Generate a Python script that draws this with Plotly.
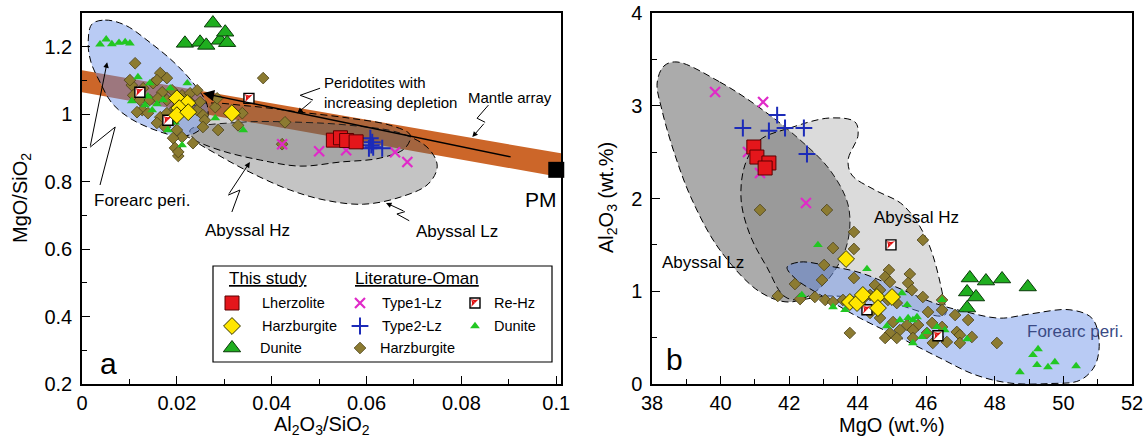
import plotly.graph_objects as go

FONT = "Liberation Sans, Arial, sans-serif"
W, H = 1145, 441

# ---------------- panel a : MgO/SiO2 vs Al2O3/SiO2 ----------------
a_lherz_x = [0.0530, 0.0545, 0.0558, 0.0578]
a_lherz_y = [0.923, 0.930, 0.922, 0.918]
a_harz_x = [0.0200, 0.0222, 0.0205, 0.0200, 0.0224, 0.0316]
a_harz_y = [1.047, 1.033, 1.018, 0.997, 1.006, 1.003]
a_dun_x = [0.0217, 0.0249, 0.0262, 0.0276, 0.0291, 0.0302, 0.0306]
a_dun_y = [1.210, 1.213, 1.204, 1.270, 1.219, 1.243, 1.212]
a_type1_x = [0.0422, 0.0500, 0.0557, 0.0660, 0.0686]
a_type1_y = [0.911, 0.890, 0.893, 0.887, 0.858]
a_type2_x = [0.0608, 0.0612, 0.0610, 0.0605, 0.0614, 0.0633]
a_type2_y = [0.929, 0.917, 0.908, 0.899, 0.902, 0.899]
a_rehz_x = [0.0122, 0.0181, 0.0352]
a_rehz_y = [1.065, 0.982, 1.047]
a_litdun_x = [0.0038, 0.0051, 0.0063, 0.0078, 0.0091, 0.0101,
              0.0118, 0.0143, 0.0105, 0.0133, 0.0148, 0.0158, 0.0171, 0.0186,
              0.0222, 0.0281, 0.0340, 0.0181, 0.0211, 0.0139, 0.0196]
a_litdun_y = [1.207, 1.222, 1.208, 1.212, 1.214, 1.210,
              1.110, 1.092, 1.039, 1.027, 1.012, 1.030, 1.042, 1.077,
              1.092, 0.988, 0.953, 0.953, 0.908, 1.053, 0.976]
a_litharz_x = [0.0112, 0.0382, 0.0165, 0.0179, 0.0105, 0.0129, 0.0150, 0.0169,
               0.0190, 0.0211, 0.0228, 0.0243, 0.0108, 0.0122, 0.0143, 0.0160,
               0.0179, 0.0127, 0.0116, 0.0139, 0.0165, 0.0179, 0.0192, 0.0158,
               0.0175, 0.0200, 0.0211, 0.0192, 0.0196, 0.0203, 0.0234, 0.0243,
               0.0255, 0.0259, 0.0255, 0.0287, 0.0281, 0.0285, 0.0329, 0.0338,
               0.0228, 0.0249, 0.0101, 0.0158, 0.0428, 0.0422, 0.0203, 0.0210,
               0.0220, 0.0195]
a_litharz_y = [1.151, 1.107, 1.122, 1.107, 1.086, 1.077, 1.092, 1.065,
               1.071, 1.056, 1.062, 1.071, 1.056, 1.042, 1.042, 1.047,
               1.042, 1.012, 1.006, 1.003, 0.991, 1.003, 0.982, 0.974,
               0.962, 0.953, 0.932, 0.929, 0.900, 0.876, 0.914, 1.012,
               0.997, 0.982, 0.962, 0.953, 1.021, 1.047, 0.967, 1.003,
               1.036, 1.036, 1.101, 1.101, 0.976, 0.911, 0.888, 1.030,
               1.010, 1.015]
pm_x = [0.100]
pm_y = [0.835]

# field outlines, panel a
a_band_x = [0.0, 0.101, 0.101, 0.0]
a_band_y = [1.130, 0.884, 0.813, 1.065]
a_abylz_x = [0.0228, 0.0333, 0.0460, 0.0565, 0.0671, 0.0730, 0.0749, 0.0730,
             0.0671, 0.0593, 0.0513, 0.0439, 0.0354, 0.0281, 0.0238]
a_abylz_y = [0.953, 0.976, 0.976, 0.967, 0.944, 0.899, 0.846, 0.793,
             0.754, 0.733, 0.745, 0.775, 0.828, 0.884, 0.923]
a_abyhz_x = [0.0186, 0.0249, 0.0354, 0.0460, 0.0565, 0.0650, 0.0692, 0.0681,
             0.0629, 0.0544, 0.0460, 0.0376, 0.0291, 0.0228, 0.0196]
a_abyhz_y = [0.988, 1.030, 1.024, 1.006, 0.988, 0.967, 0.938, 0.899,
             0.870, 0.858, 0.846, 0.864, 0.893, 0.929, 0.959]
a_fore_x = [0.0021, 0.0049, 0.0091, 0.0143, 0.0196, 0.0238, 0.0264, 0.0262,
            0.0238, 0.0203, 0.0154, 0.0101, 0.0063, 0.0038, 0.0019, 0.0013]
a_fore_y = [1.267, 1.279, 1.264, 1.213, 1.151, 1.086, 1.027, 0.976,
            0.944, 0.935, 0.953, 0.988, 1.033, 1.095, 1.154, 1.213]

# ---------------- panel b : Al2O3 vs MgO ----------------
b_lherz_x = [40.97, 41.06, 41.41, 41.30]
b_lherz_y = [2.555, 2.447, 2.383, 2.329]
b_harz_x = [43.66, 43.77, 43.98, 44.15, 44.56, 44.59, 45.00]
b_harz_y = [1.348, 0.884, 0.873, 0.960, 0.938, 0.819, 0.938]
b_dun_x = [47.27, 47.74, 48.21, 48.96, 47.19, 47.45, 47.19]
b_dun_y = [1.143, 1.110, 1.132, 1.046, 0.992, 0.938, 0.819]
b_type1_x = [39.84, 41.24, 42.49, 40.80, 41.15]
b_type1_y = [3.148, 3.040, 1.951, 2.501, 2.275]
b_type2_x = [40.65, 41.65, 41.41, 41.88, 42.43, 42.52]
b_type2_y = [2.76, 2.90, 2.73, 2.76, 2.76, 2.48]
b_rehz_x = [44.97, 44.27, 46.34]
b_rehz_y = [1.50, 0.80, 0.52]
b_litdun_x = [42.84, 44.27, 42.37, 43.63, 43.28, 45.29, 45.44, 44.85, 45.23,
              45.47, 45.61, 45.73, 46.02, 45.61, 46.46, 46.54, 46.31, 45.87,
              47.19, 48.73, 49.11, 49.26, 49.23, 49.55, 49.75, 50.37]
b_litdun_y = [1.499, 1.240, 0.960, 0.798, 0.830, 0.981, 0.852, 0.625, 0.690,
              0.712, 0.690, 0.722, 0.561, 0.442, 0.906, 0.582, 0.615, 0.507,
              0.485, 0.129, 0.313, 0.377, 0.205, 0.183, 0.237, 0.194]
b_litharz_x = [41.15, 43.10, 43.89, 43.28, 43.89, 45.90, 43.02, 42.96, 43.89,
               42.17, 41.67, 42.32, 42.75, 43.05, 43.28, 43.57, 44.91, 45.52,
               44.80, 44.94, 45.47, 44.50, 44.65, 45.58, 44.36, 44.21, 45.90,
               46.46, 44.88, 45.14, 46.05, 46.46, 46.84, 47.22, 44.36, 44.65,
               45.03, 45.44, 45.76, 46.17, 46.46, 46.89, 46.98, 47.33, 44.94,
               45.23, 45.14, 44.80, 45.61, 46.02, 46.34, 46.60, 46.98, 46.19,
               45.61, 48.06, 43.77]
b_litharz_y = [1.876, 1.876, 1.639, 1.466, 1.456, 1.553, 1.283, 1.121, 1.143,
               1.078, 0.949, 0.916, 0.938, 0.906, 0.884, 0.906, 1.229, 1.186,
               1.154, 1.100, 1.089, 1.067, 1.013, 1.013, 0.960, 0.938, 0.938,
               0.906, 0.906, 0.873, 0.776, 0.798, 0.744, 0.690, 0.766, 0.712,
               0.668, 0.636, 0.636, 0.658, 0.615, 0.561, 0.528, 0.507, 0.550,
               0.582, 0.496, 0.496, 0.582, 0.550, 0.507, 0.453, 0.442, 0.442,
               0.496, 0.442, 0.550]

# field outlines, panel b
b_abylz_x = [38.73, 39.98, 41.15, 42.32, 43.19, 43.72, 43.72, 43.34, 42.75,
             42.02, 41.15, 39.98, 39.17, 38.67, 38.29, 38.15, 38.35]
b_abylz_y = [3.472, 3.256, 2.976, 2.631, 2.307, 1.930, 1.553, 1.229, 0.992,
             0.884, 0.992, 1.445, 1.984, 2.469, 2.954, 3.245, 3.429]
b_abyhz_x = [40.71, 41.15, 42.02, 43.19, 43.92, 44.01, 43.72, 43.83, 44.50,
             45.32, 46.02, 46.49, 46.54, 44.65, 43.19, 41.94, 41.35, 40.86, 40.60]
b_abyhz_y = [2.361, 2.631, 2.760, 2.868, 2.825, 2.685, 2.415, 2.253, 2.092,
             1.930, 1.553, 0.938, 0.744, 0.906, 0.949, 0.927, 1.261, 1.606, 1.984]
b_fore_x = [41.94, 42.32, 43.19, 44.07, 45.09, 46.25, 47.13, 48.15, 49.02,
            50.19, 50.83, 51.04, 50.92, 50.48, 49.61, 48.44, 47.42, 46.40,
            45.23, 44.07, 43.05, 42.17]
b_fore_y = [1.260, 1.315, 1.270, 1.200, 1.050, 0.870, 0.780, 0.710, 0.755,
            0.800, 0.710, 0.470, 0.200, 0.040, 0.005, 0.010, 0.100, 0.280,
            0.500, 0.710, 0.930, 1.140]

# colours
RED = "#E4161B"
YEL = "#FFE600"
GRN = "#1FAE1F"
LGRN = "#22C722"
OLV = "#8C7B31"
MAG = "#E02AC8"
BLU = "#1C2BB8"
BAND = "rgb(204,102,41)"
BLUEFILL = "rgba(100,140,230,0.45)"
DASH = "7px,4px"

fig = go.Figure()


def region(x, y, fill, xa, ya, outline=True):
    fig.add_trace(go.Scatter(
        x=x + [x[0]], y=y + [y[0]], mode="lines", fill="toself", fillcolor=fill,
        line=dict(color="black" if outline else "rgba(0,0,0,0)", width=1,
                  dash=DASH, shape="spline" if outline else "linear", smoothing=1.0),
        xaxis=xa, yaxis=ya, hoverinfo="skip", showlegend=False))


def pts(x, y, xa, ya, symbol, size, color, lc="black", lw=1.0, angle=0):
    fig.add_trace(go.Scatter(
        x=x, y=y, mode="markers", xaxis=xa, yaxis=ya,
        marker=dict(symbol=symbol, size=size, color=color, angle=angle,
                    line=dict(color=lc, width=lw)),
        hoverinfo="skip", showlegend=False, cliponaxis=False))


def rehz(x, y, xa, ya, size=10):
    # white square, upper-left half filled red (two quarter wedges), black frame
    pts(x, y, xa, ya, "square", size, "white", "white", 0)
    q = size * 0.7071
    pts(x, y, xa, ya, "arrow-wide", q, "#E01010", "#E01010", 0, angle=180)
    pts(x, y, xa, ya, "arrow-wide", q, "#E01010", "#E01010", 0, angle=90)
    pts(x, y, xa, ya, "square-open", size, "black", "black", 1.4)


def zigzag(x, y, xa, ya):
    fig.add_trace(go.Scatter(x=x, y=y, mode="lines", xaxis=xa, yaxis=ya,
                             line=dict(color="black", width=1), hoverinfo="skip",
                             showlegend=False))


# ---- panel a fields ----
region(a_band_x, a_band_y, BAND, "x", "y", outline=False)
region(a_abylz_x, a_abylz_y, "rgba(100,100,100,0.38)", "x", "y")
region(a_abyhz_x, a_abyhz_y, "rgba(100,100,100,0.30)", "x", "y")
region(a_fore_x, a_fore_y, BLUEFILL, "x", "y")

# zig-zag leader lines (panel a)
leaders_a = [
    ([0.0038, 0.0070, 0.0017], [0.790, 0.962, 0.902], (0.0053, 1.154)),
    ([0.0502, 0.0460, 0.0487], [1.077, 1.056, 1.042], (0.0454, 1.003)),
    ([0.0857, 0.0833, 0.0850], [1.027, 0.988, 0.976], (0.0823, 0.932)),
    ([0.0316, 0.0333, 0.0308], [0.710, 0.775, 0.760], (0.0354, 0.858)),
    ([0.0690, 0.0664, 0.0681], [0.684, 0.704, 0.711], (0.0641, 0.737)),
]
annotations = []
for lx, ly, tip in leaders_a:
    zigzag(lx, ly, "x", "y")
    annotations.append(dict(x=tip[0], y=tip[1], ax=lx[-1], ay=ly[-1], xref="x", yref="y",
                            axref="x", ayref="y", text="", showarrow=True, arrowhead=2,
                            arrowsize=1.1, arrowwidth=1, arrowcolor="black", standoff=0))
# depletion trend arrow inside the mantle array
annotations.append(dict(x=0.0255, y=1.062, ax=0.0907, ay=0.8726, xref="x", yref="y",
                        axref="x", ayref="y", text="", showarrow=True, arrowhead=2,
                        arrowsize=1.6, arrowwidth=1.4, arrowcolor="black", standoff=0))

# ---- panel a points ----
pts(a_litharz_x, a_litharz_y, "x", "y", "diamond", 9, OLV, "#4A4018", 0.8)
pts(a_litdun_x, a_litdun_y, "x", "y", "triangle-up", 8.5, LGRN, LGRN, 0)
rehz(a_rehz_x, a_rehz_y, "x", "y")
pts(a_type1_x, a_type1_y, "x", "y", "x-thin", 10, MAG, MAG, 2.2)
pts(a_type2_x, a_type2_y, "x", "y", "cross-thin", 12, BLU, BLU, 2)
pts(a_lherz_x, a_lherz_y, "x", "y", "square", 14, RED, "#5A0000", 1)
pts(a_harz_x, a_harz_y, "x", "y", "diamond", 13, YEL, "#333300", 1)
pts(a_dun_x, a_dun_y, "x", "y", "triangle-up", 15, GRN, "#0A3A0A", 1)
pts(pm_x, pm_y, "x", "y", "square", 16, "black", "black", 0)

# ---- panel b fields ----
region(b_abylz_x, b_abylz_y, "rgba(100,100,100,0.54)", "x2", "y2")
region(b_abyhz_x, b_abyhz_y, "rgba(100,100,100,0.23)", "x2", "y2")
region(b_fore_x, b_fore_y, BLUEFILL, "x2", "y2")

# ---- panel b points ----
pts(b_litharz_x, b_litharz_y, "x2", "y2", "diamond", 9, OLV, "#4A4018", 0.8)
pts(b_litdun_x, b_litdun_y, "x2", "y2", "triangle-up", 8.5, LGRN, LGRN, 0)
rehz(b_rehz_x, b_rehz_y, "x2", "y2")
pts(b_type1_x, b_type1_y, "x2", "y2", "x-thin", 10, MAG, MAG, 2.2)
pts(b_type2_x, b_type2_y, "x2", "y2", "cross-thin", 12, BLU, BLU, 2)
pts(b_lherz_x, b_lherz_y, "x2", "y2", "square", 14, RED, "#5A0000", 1)
pts(b_harz_x, b_harz_y, "x2", "y2", "diamond", 13, YEL, "#333300", 1)
pts(b_dun_x, b_dun_y, "x2", "y2", "triangle-up", 15, GRN, "#0A3A0A", 1)

# ---- key box (own hidden axes, units = px inside the box) ----
pts([19], [37], "x3", "y3", "square", 14, RED, "#5A0000", 1)
pts([19], [60], "x3", "y3", "diamond", 13, YEL, "#333300", 1)
pts([19], [82], "x3", "y3", "triangle-up", 15, GRN, "#0A3A0A", 1)
pts([147], [37], "x3", "y3", "x-thin", 10, MAG, MAG, 2.2)
pts([147], [60], "x3", "y3", "cross-thin", 12, BLU, BLU, 2)
pts([147], [82], "x3", "y3", "diamond", 9, OLV, "#4A4018", 0.8)
rehz([262], [37], "x3", "y3", size=10)
pts([262], [60], "x3", "y3", "triangle-up", 8.5, LGRN, LGRN, 0)

key_text = [
    (14, 12, "<u>This study</u>", 17), (140, 12, "<u>Literature-Oman</u>", 17),
    (47, 37, "Lherzolite", 14.5), (47, 60, "Harzburgite", 14.5), (45, 82, "Dunite", 14.5),
    (167, 37, "Type1-Lz", 14.5), (167, 60, "Type2-Lz", 14.5), (165, 82, "Harzburgite", 14.5),
    (279, 37, "Re-Hz", 14.5), (279, 60, "Dunite", 14.5),
]
for kx, ky, kt, ks in key_text:
    annotations.append(dict(x=kx, y=ky, xref="x3", yref="y3", text=kt, showarrow=False,
                            xanchor="left", yanchor="middle",
                            font=dict(family=FONT, size=ks, color="black")))


def label(x, y, text, xr, yr, size=17, color="black", xanchor="center", align="center",
          angle=0):
    annotations.append(dict(x=x, y=y, xref=xr, yref=yr, text=text, showarrow=False,
                            xanchor=xanchor, yanchor="middle", align=align, textangle=angle,
                            font=dict(family=FONT, size=size, color=color)))


# panel a labels
label(0.0127, 0.745, "Forearc peri.", "x", "y", 17)
label(0.0348, 0.656, "Abyssal Hz", "x", "y", 17)
label(0.0791, 0.653, "Abyssal Lz", "x", "y", 17)
label(0.0506, 1.064, "Peridotites with<br>increasing depletion", "x", "y", 15,
      xanchor="left", align="left")
label(0.0903, 1.050, "Mantle array", "x", "y", 15)
label(0.0968, 0.748, "PM", "x", "y", 21)
label(0.0055, 0.262, "a", "x", "y", 30)
# panel b labels
label(39.49, 1.305, "Abyssal Lz", "x2", "y2", 17)
label(45.70, 1.790, "Abyssal Hz", "x2", "y2", 17)
label(50.34, 0.561, "Forearc peri.", "x2", "y2", 17, color="#3A4A85")
label(38.67, 0.259, "b", "x2", "y2", 30)

# axis titles
label(321.5 / W, 1 - 425 / H, "Al<sub>2</sub>O<sub>3</sub>/SiO<sub>2</sub>", "paper", "paper", 20)
label(892 / W, 1 - 425 / H, "MgO (wt.%)", "paper", "paper", 20)
label(21 / W, 1 - 198 / H, "MgO/SiO<sub>2</sub>", "paper", "paper", 20, angle=-90)
label(607 / W, 1 - 198 / H, "Al<sub>2</sub>O<sub>3</sub> (wt.%)", "paper", "paper", 20, angle=-90)

axis_common = dict(showline=True, linecolor="black", linewidth=1.5, mirror=True,
                   ticks="inside", ticklen=8, tickwidth=1.3, tickcolor="black",
                   showgrid=False, zeroline=False, automargin=False,
                   tickfont=dict(family=FONT, size=20, color="black"))
minor_common = dict(ticks="inside", ticklen=5, tickwidth=1.2, tickcolor="black", showgrid=False)
ydom = [1 - 384 / H, 1 - 13 / H]

fig.update_layout(
    template="none",
    width=W, height=H, margin=dict(l=0, r=0, t=0, b=0, pad=0, autoexpand=False),
    paper_bgcolor="white", plot_bgcolor="rgba(0,0,0,0)", showlegend=False,
    font=dict(family=FONT, color="black"),
    xaxis=dict(domain=[82 / W, 561 / W], range=[0, 0.101], tick0=0, dtick=0.02,
               minor=dict(dtick=0.01, **minor_common), anchor="y", **axis_common),
    yaxis=dict(domain=ydom, range=[0.2, 1.3], tick0=0.2, dtick=0.2,
               minor=dict(dtick=0.1, **minor_common), anchor="x", ticklabelstandoff=4,
               **axis_common),
    xaxis2=dict(domain=[652 / W, 1132 / W], range=[38, 52], tick0=38, dtick=2,
                minor=dict(dtick=1, **minor_common), anchor="y2", **axis_common),
    yaxis2=dict(domain=ydom, range=[0, 4], tick0=0, dtick=1,
                minor=dict(dtick=0.5, **minor_common), anchor="x2", ticklabelstandoff=4,
                **axis_common),
    xaxis3=dict(domain=[211 / W, 554 / W], range=[-2, 341], visible=False, anchor="y3",
                fixedrange=True, automargin=False),
    yaxis3=dict(domain=[1 - 364 / H, 1 - 264 / H], range=[98, -2], visible=False,
                anchor="x3", fixedrange=True, automargin=False),
    annotations=annotations,
    shapes=[dict(type="rect", xref="x3", yref="y3", x0=0, x1=339, y0=0, y1=96,
                 line=dict(color="black", width=1.2), fillcolor="white", layer="below")],
)

fig.write_html("out.html")
